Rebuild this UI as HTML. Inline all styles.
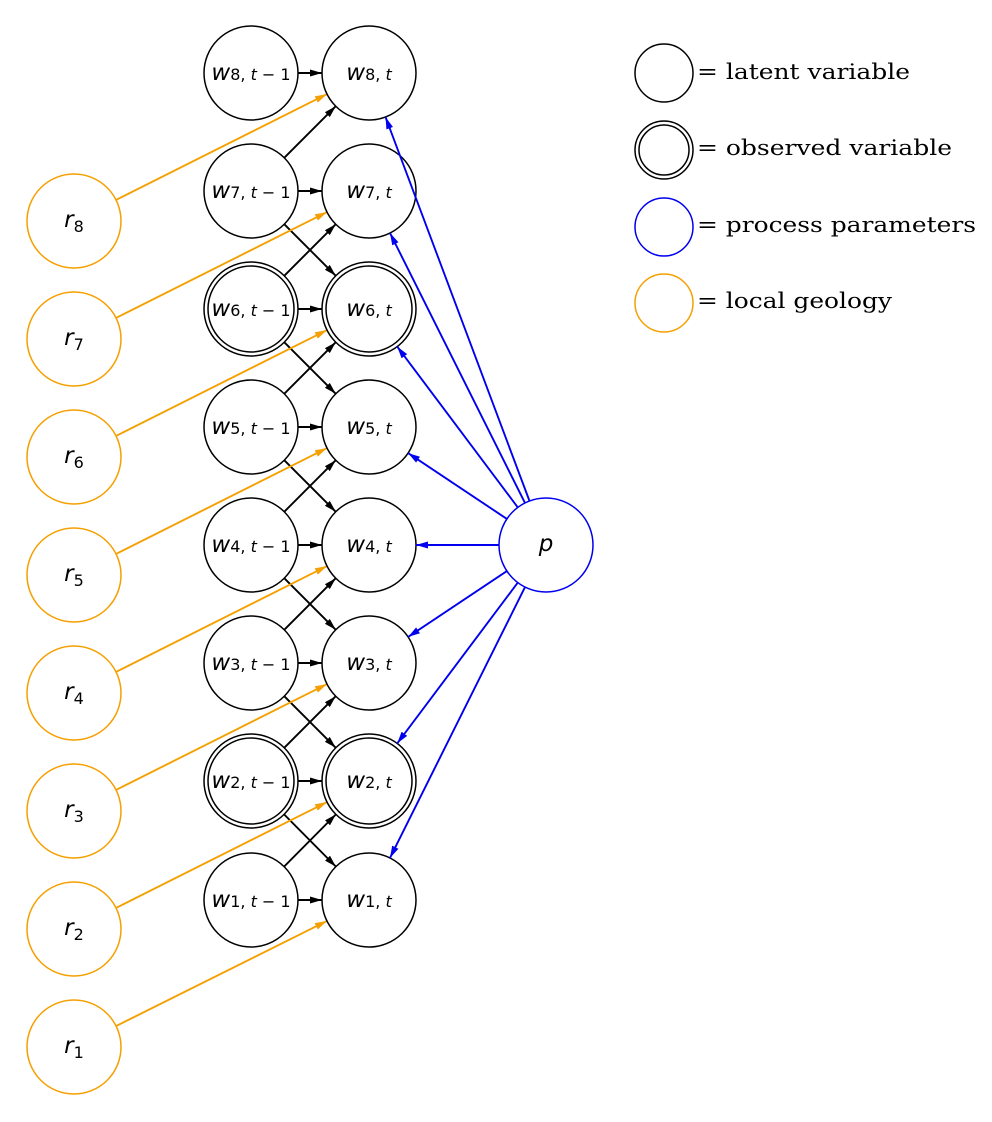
<!DOCTYPE html>
<html><head><meta charset="utf-8"><style>
html,body{margin:0;padding:0;background:#fff;}
svg{display:block;}
.lab{font-family:"DejaVu Sans","Liberation Sans",sans-serif;}
.w{font-style:oblique;font-size:23px;}
.s{font-size:16px;}
.leg{font-family:"DejaVu Serif","Liberation Serif",serif;font-size:21px;}
</style></head><body>
<svg id="g" width="992" height="1122" viewBox="0 0 992 1122" xmlns="http://www.w3.org/2000/svg">
<defs>
<marker id="mk" viewBox="0 0 12 7" refX="12" refY="3.5" markerWidth="12" markerHeight="7" markerUnits="userSpaceOnUse" orient="auto"><path d="M0,0 L12,3.5 L0,7 z" fill="#000"/></marker>
<marker id="mo" viewBox="0 0 12 7" refX="12" refY="3.5" markerWidth="12" markerHeight="7" markerUnits="userSpaceOnUse" orient="auto"><path d="M0,0 L12,3.5 L0,7 z" fill="#f5a000"/></marker>
<marker id="mb" viewBox="0 0 12 7" refX="12" refY="3.5" markerWidth="12" markerHeight="7" markerUnits="userSpaceOnUse" orient="auto"><path d="M0,0 L12,3.5 L0,7 z" fill="#0000ee"/></marker>
</defs>
<g id="edges"></g>
<g fill="#fff" stroke-width="1.5">
<g stroke="#000">
<circle cx="251" cy="73" r="47"/><circle cx="369" cy="73" r="47"/>
<circle cx="251" cy="191" r="47"/><circle cx="369" cy="191" r="47"/>
<circle cx="251" cy="309" r="47"/><circle cx="251" cy="309" r="43"/>
<circle cx="369" cy="309" r="47"/><circle cx="369" cy="309" r="43"/>
<circle cx="251" cy="427" r="47"/><circle cx="369" cy="427" r="47"/>
<circle cx="251" cy="545" r="47"/><circle cx="369" cy="545" r="47"/>
<circle cx="251" cy="663" r="47"/><circle cx="369" cy="663" r="47"/>
<circle cx="251" cy="781" r="47"/><circle cx="251" cy="781" r="43"/>
<circle cx="369" cy="781" r="47"/><circle cx="369" cy="781" r="43"/>
<circle cx="251" cy="900" r="47"/><circle cx="369" cy="900" r="47"/>
<circle cx="664" cy="73" r="29"/>
<circle cx="664" cy="150" r="29"/><circle cx="664" cy="150" r="25"/>
</g>
<g stroke="#f5a000">
<circle cx="74" cy="221" r="47"/><circle cx="74" cy="339" r="47"/><circle cx="74" cy="457" r="47"/><circle cx="74" cy="575" r="47"/>
<circle cx="74" cy="693" r="47"/><circle cx="74" cy="811" r="47"/><circle cx="74" cy="929" r="47"/><circle cx="74" cy="1047" r="47"/>
<circle cx="664" cy="303" r="29"/>
</g>
<g stroke="#0000ee"><circle cx="546" cy="545" r="47"/><circle cx="664" cy="227" r="29"/></g>
</g>
<g id="top"></g>
<g class="lab" text-anchor="middle">
<text x="251" y="80"><tspan class="w">w</tspan><tspan class="s">8, <tspan font-style="oblique">t</tspan> − 1</tspan></text>
<text x="369" y="80"><tspan class="w">w</tspan><tspan class="s">8, <tspan font-style="oblique">t</tspan></tspan></text>
<text x="251" y="198"><tspan class="w">w</tspan><tspan class="s">7, <tspan font-style="oblique">t</tspan> − 1</tspan></text>
<text x="369" y="198"><tspan class="w">w</tspan><tspan class="s">7, <tspan font-style="oblique">t</tspan></tspan></text>
<text x="251" y="316"><tspan class="w">w</tspan><tspan class="s">6, <tspan font-style="oblique">t</tspan> − 1</tspan></text>
<text x="369" y="316"><tspan class="w">w</tspan><tspan class="s">6, <tspan font-style="oblique">t</tspan></tspan></text>
<text x="251" y="434"><tspan class="w">w</tspan><tspan class="s">5, <tspan font-style="oblique">t</tspan> − 1</tspan></text>
<text x="369" y="434"><tspan class="w">w</tspan><tspan class="s">5, <tspan font-style="oblique">t</tspan></tspan></text>
<text x="251" y="552"><tspan class="w">w</tspan><tspan class="s">4, <tspan font-style="oblique">t</tspan> − 1</tspan></text>
<text x="369" y="552"><tspan class="w">w</tspan><tspan class="s">4, <tspan font-style="oblique">t</tspan></tspan></text>
<text x="251" y="670"><tspan class="w">w</tspan><tspan class="s">3, <tspan font-style="oblique">t</tspan> − 1</tspan></text>
<text x="369" y="670"><tspan class="w">w</tspan><tspan class="s">3, <tspan font-style="oblique">t</tspan></tspan></text>
<text x="251" y="788"><tspan class="w">w</tspan><tspan class="s">2, <tspan font-style="oblique">t</tspan> − 1</tspan></text>
<text x="369" y="788"><tspan class="w">w</tspan><tspan class="s">2, <tspan font-style="oblique">t</tspan></tspan></text>
<text x="251" y="907"><tspan class="w">w</tspan><tspan class="s">1, <tspan font-style="oblique">t</tspan> − 1</tspan></text>
<text x="369" y="907"><tspan class="w">w</tspan><tspan class="s">1, <tspan font-style="oblique">t</tspan></tspan></text>
<text x="74" y="227"><tspan class="w">r</tspan><tspan class="s" dy="5">8</tspan></text>
<text x="74" y="345"><tspan class="w">r</tspan><tspan class="s" dy="5">7</tspan></text>
<text x="74" y="463"><tspan class="w">r</tspan><tspan class="s" dy="5">6</tspan></text>
<text x="74" y="581"><tspan class="w">r</tspan><tspan class="s" dy="5">5</tspan></text>
<text x="74" y="699"><tspan class="w">r</tspan><tspan class="s" dy="5">4</tspan></text>
<text x="74" y="817"><tspan class="w">r</tspan><tspan class="s" dy="5">3</tspan></text>
<text x="74" y="935"><tspan class="w">r</tspan><tspan class="s" dy="5">2</tspan></text>
<text x="74" y="1053"><tspan class="w">r</tspan><tspan class="s" dy="5">1</tspan></text>
<text x="546" y="551" class="w">p</text>
</g>
<g class="leg">
<text x="697" y="79" textLength="213" lengthAdjust="spacingAndGlyphs">= latent variable</text>
<text x="697" y="155" textLength="255" lengthAdjust="spacingAndGlyphs">= observed variable</text>
<text x="697" y="232" textLength="279" lengthAdjust="spacingAndGlyphs">= process parameters</text>
<text x="697" y="308" textLength="195" lengthAdjust="spacingAndGlyphs">= local geology</text>
</g>
</svg>
<script>
(function(){
var g=document.getElementById('edges'),top=document.getElementById('top'),ns='http://www.w3.org/2000/svg';
function L(par,x1,y1,x2,y2,r1,r2,col,m){var dx=x2-x1,dy=y2-y1,d=Math.sqrt(dx*dx+dy*dy),ux=dx/d,uy=dy/d;
var l=document.createElementNS(ns,'line');l.setAttribute('x1',x1+ux*r1);l.setAttribute('y1',y1+uy*r1);
l.setAttribute('x2',x2-ux*r2);l.setAttribute('y2',y2-uy*r2);l.setAttribute('stroke',col);l.setAttribute('stroke-width','1.9');
l.setAttribute('marker-end','url(#'+m+')');par.appendChild(l);}
var wy={8:73,7:191,6:309,5:427,4:545,3:663,2:781,1:900},ry={8:221,7:339,6:457,5:575,4:693,3:811,2:929,1:1047};
for(var i=1;i<=8;i++){
L(g,251,wy[i],369,wy[i],47,47,'#000','mk');
if(i<8)L(g,251,wy[i],369,wy[i+1],47,47,'#000','mk');
if(i>1&&i<8)L(g,251,wy[i],369,wy[i-1],47,47,'#000','mk');
L(g,74,ry[i],369,wy[i],47,47,'#f5a000','mo');
L(top,546,545,369,wy[i],47,47,'#0000ee','mb');
}})();
</script>
</body></html>
